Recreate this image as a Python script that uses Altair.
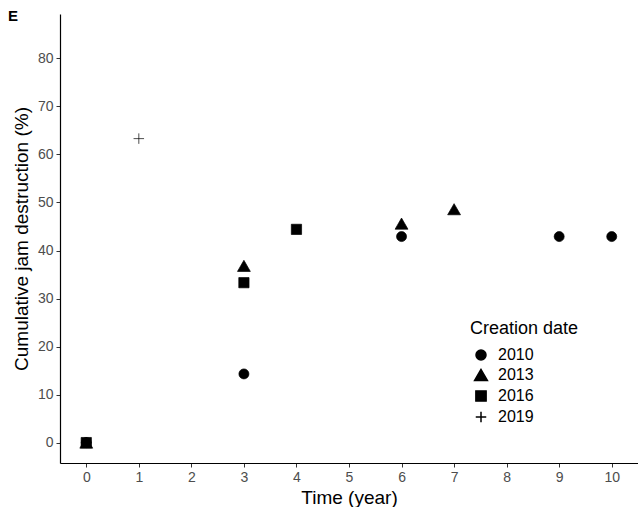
import altair as alt
import pandas as pd

creation = ["2010"] * 5 + ["2013"] * 4 + ["2016"] * 3 + ["2019"] * 2
time_year = [0, 3, 6, 9, 10, 0, 3, 6, 7, 0, 3, 4, 0, 1]
destruction = [0, 14.3, 42.9, 42.9, 42.9, 0, 36.8, 45.6, 48.6, 0, 33.3, 44.4, 0, 63.3]
x_ticks = list(range(0, 11))
y_ticks = [0, 10, 20, 30, 40, 50, 60, 70, 80]
years = ["2010", "2013", "2016", "2019"]

df = pd.DataFrame({"Creation date": creation, "Time": time_year, "Destruction": destruction})

FONT = "Liberation Sans"
plus_path = "M0,-1L0,1M-1,0L1,0"

legend = alt.Legend(title="Creation date", orient="none", legendX=410, legendY=306)

chart = alt.Chart(df).mark_point(
    filled=True, opacity=1, fill="black", stroke="black", strokeWidth=0.7
).encode(
    x=alt.X("Time:Q", scale=alt.Scale(domain=[-0.5, 10.5], nice=False, zero=False),
            axis=alt.Axis(values=x_ticks, title="Time (year)")),
    y=alt.Y("Destruction:Q", scale=alt.Scale(domain=[-4.25, 89.25], nice=False, zero=False),
            axis=alt.Axis(values=y_ticks, title="Cumulative jam destruction (%)")),
    shape=alt.Shape("Creation date:N",
                    scale=alt.Scale(domain=years, range=["circle", "triangle-up", "square", plus_path]),
                    legend=legend),
    size=alt.Size("Creation date:N",
                  scale=alt.Scale(type="ordinal", domain=years, range=[100, 165, 105, 110]),
                  legend=legend),
).properties(
    width=578, height=449,
    padding={"left": 60, "top": 14, "right": 0, "bottom": 44},
    autosize=alt.AutoSizeParams(type="none"),
    title=alt.TitleParams("E", anchor="start", frame="group", dx=-52, offset=-10,
                          fontSize=15, fontWeight="bold", font=FONT, color="black"),
).configure_view(stroke=None).configure_axis(
    grid=False, domainColor="black", domainWidth=1.2, tickColor="#333333", tickSize=4,
    labelColor="#4d4d4d", labelFont=FONT, labelFontSize=14, titleFont=FONT,
    titleFontSize=19, titleFontWeight="normal", titleColor="black", labelPadding=3,
).configure_axisX(titlePadding=4).configure_axisY(titlePadding=6).configure_legend(
    titleFont=FONT, titleFontSize=18, titleFontWeight="normal", titleColor="black",
    labelFont=FONT, labelFontSize=16, labelColor="black",
    rowPadding=3, titlePadding=9, symbolOffset=3, labelOffset=9,
)

chart.save("out.html", embed_options={"renderer": "svg", "actions": False})
